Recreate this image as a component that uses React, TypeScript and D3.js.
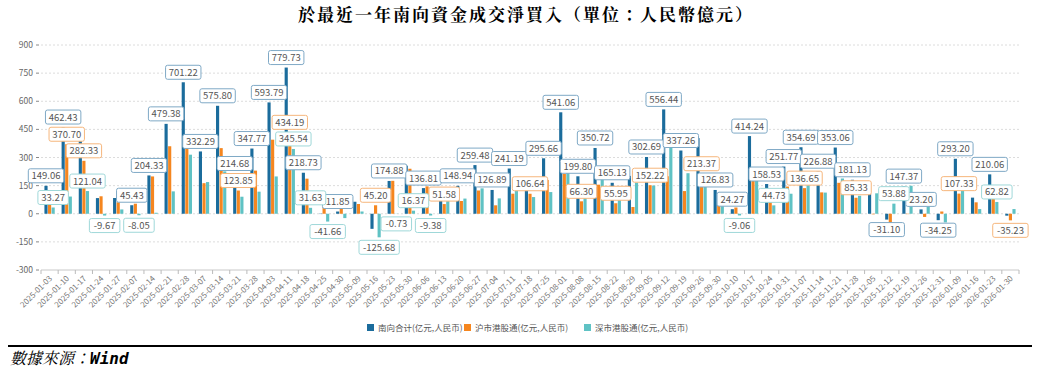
import React from "react";
import * as d3 from "d3";

const dates = [
  "2025-01-03", "2025-01-10", "2025-01-17", "2025-01-24", "2025-01-27", "2025-02-07", "2025-02-14",
  "2025-02-21", "2025-02-28", "2025-03-07", "2025-03-14", "2025-03-21", "2025-03-28", "2025-04-03",
  "2025-04-11", "2025-04-18", "2025-04-25", "2025-04-30", "2025-05-09", "2025-05-16", "2025-05-23",
  "2025-05-30", "2025-06-06", "2025-06-13", "2025-06-20", "2025-06-27", "2025-07-04", "2025-07-11",
  "2025-07-18", "2025-07-25", "2025-08-01", "2025-08-08", "2025-08-15", "2025-08-22", "2025-08-29",
  "2025-09-05", "2025-09-12", "2025-09-19", "2025-09-26", "2025-09-30", "2025-10-10", "2025-10-17",
  "2025-10-24", "2025-10-31", "2025-11-07", "2025-11-14", "2025-11-21", "2025-11-28", "2025-12-05",
  "2025-12-12", "2025-12-19", "2025-12-26", "2025-12-31", "2026-01-09", "2026-01-16", "2026-01-23",
  "2026-01-30",
];

const southTotal = [
  149.06, 462.43, 403.37, 83.5, 84, 45.43, 204.33, 479.38, 701.22, 332.29, 575.8, 214.68, 347.77, 593.79,
  779.73, 218.73, -1.5, 11.85, 64, -80.48, 174.88, 256, 136.81, 118.5, 148.94, 259.48, 126.89, 241.19,
  195.64, 295.66, 541.06, 199.8, 350.72, 165.13, 202, 302.69, 556.44, 337.26, 403.5, 126.83, 24.27, 414.24,
  158.53, 251.77, 354.69, 226.88, 353.06, 181.13, 106, -31.1, 147.37, 23.2, -34.25, 293.2, 86, 210.06, -10.23,
];

const shConnect = [
  115.79, 370.7, 282.33, 93.17, 61, 53.48, 199, 360, 386, 163, 350, 123.85, 230, 395,
  434.19, 187.1, 40.16, 35, 52, 45.2, 175.61, 240, 146.19, 51.58, 68, 124, 45, 107,
  106.64, 180, 213, 66.3, 155, 55.95, 36, 152.22, 200, 121, 213.37, 60, 33.33, 176,
  113.8, 145, 136.65, 114, 165, 85.33, -3, -84.98, -2, -17, 12, 107.33, 61, 147.24, -35.23,
];

const szConnect = [
  33.27, 91.73, 121.04, -9.67, 23, -8.05, 5.33, 119.38, 315, 169, 226, 90.83, 117.77, 199,
  345.54, 31.63, -41.66, -23.15, 12, -125.68, -0.73, 16.37, -9.38, 66.92, 80.94, 135.48, 81.89, 134.19,
  89, 115.66, 265, 133.5, 195.72, 109.18, 166, 150.47, 356.44, 216.26, 190.13, 66.83, -9.06, 238.24,
  44.73, 106.77, 218.04, 112.88, 188.06, 95.8, 109, 53.88, 149.37, 40.2, -46.25, 185.87, 25, 62.82, 25,
];

// which bars carry a value label
const southLabelIdx = [0, 1, 5, 6, 7, 8, 9, 10, 11, 12, 13, 14, 15, 17, 20, 22, 24, 25, 26, 27, 29, 30, 31, 32, 33, 35, 36, 37, 39, 40, 41, 42, 43, 44, 45, 46, 47, 49, 50, 51, 52, 53, 55];
const shLabelIdx = [1, 2, 11, 14, 19, 23, 28, 31, 33, 35, 38, 44, 47, 53, 56];
const szLabelIdx = [0, 2, 3, 5, 14, 15, 16, 19, 20, 21, 22, 40, 42, 49, 55];

const seriesNames = ["南向合计(亿元,人民币)", "沪市港股通(亿元,人民币)", "深市港股通(亿元,人民币)"];
const colors = ["#1b6c9c", "#f5861f", "#5fc2c4"];
const labelBorders = ["#7fa9c6", "#f6b67c", "#9fd8d9"];
const yTicks = [-300, -150, 0, 150, 300, 450, 600, 750, 900];

const W = 1050;
const H = 373;
const left = 41;
const right = 1019;
const font = "'Noto Sans CJK SC', 'Noto Sans', sans-serif";

export default function App() {
  const x = d3.scaleBand<string>().domain(dates).range([left, right]).paddingInner(0).paddingOuter(0);
  const bw = x.bandwidth();
  const sub = d3.scaleBand<number>().domain([0, 1, 2]).range([bw * 0.2, bw * 0.8]).paddingInner(0.12);
  const y = d3.scaleLinear().domain([-300, 900]).range([270, 45]);

  const allSeries = [southTotal, shConnect, szConnect];
  const labelSets = [southLabelIdx, shLabelIdx, szLabelIdx];

  const labels: { cx: number; yb: number; v: number; s: number; neg: boolean }[] = [];
  allSeries.forEach((vals, s) => {
    labelSets[s].forEach((i) => {
      const v = vals[i];
      const cx = (x(dates[i]) ?? 0) + (sub(s) ?? 0) + sub.bandwidth() / 2;
      labels.push({ cx, yb: y(v), v, s, neg: v < 0 });
    });
  });

  const legendX = [367, 464, 584];

  return (
    <svg width={W} height={H} style={{ display: "block", position: "absolute", left: 0, top: 0 }}>
      <rect width={W} height={H} fill="#fff" />
      <text x={526} y={21} textAnchor="middle" fontFamily="'Noto Serif CJK TC', 'Noto Sans CJK TC', serif" fontWeight="bold" fontSize={17} letterSpacing={2}>
        於最近一年南向資金成交淨買入（單位：人民幣億元）
      </text>

      {/* grid + y axis */}
      {yTicks.map((t) => (
        <g key={t}>
          {t !== -300 && (
            <line x1={left} x2={right} y1={y(t)} y2={y(t)} stroke="#dcdcdc" strokeDasharray="2,2" />
          )}
          <line x1={36} x2={39} y1={y(t)} y2={y(t)} stroke="#888" />
          <text x={33} y={y(t) + 3} textAnchor="end" fontSize={8.5} fill="#666" fontFamily={font}>
            {t}
          </text>
        </g>
      ))}
      <line x1={left} x2={right} y1={y(-300)} y2={y(-300)} stroke="#c8c8c8" />
      {dates.map((d) => (
        <line key={"t" + d} x1={x(d)} x2={x(d)} y1={y(-300)} y2={y(-300) + 4} stroke="#bbb" />
      ))}
      <line x1={right} x2={right} y1={y(-300)} y2={y(-300) + 4} stroke="#bbb" />

      {/* bars */}
      {allSeries.map((vals, s) => (
        <g key={"s" + s} fill={colors[s]}>
          {vals.map((v, i) => (
            <rect
              key={i}
              x={(x(dates[i]) ?? 0) + (sub(s) ?? 0)}
              y={Math.min(y(v), y(0))}
              width={sub.bandwidth()}
              height={Math.abs(y(v) - y(0))}
            />
          ))}
        </g>
      ))}

      {/* value labels */}
      {labels.map((l, k) => {
        const txt = l.v.toFixed(2);
        const bwid = txt.length * 4.9 + 6;
        const bh = 14;
        const top = l.neg ? l.yb + 3 : l.yb - 3 - bh;
        return (
          <g key={"l" + k}>
            <rect x={l.cx - bwid / 2} y={top} width={bwid} height={bh} rx={2} fill="#fff" stroke={labelBorders[l.s]} strokeWidth={1} />
            <text x={l.cx} y={top + 10.5} textAnchor="middle" fontSize={9.5} fill="#555" fontFamily={font}>
              {txt}
            </text>
          </g>
        );
      })}

      {/* x labels */}
      {dates.map((d) => {
        const cx = (x(d) ?? 0) + bw / 2;
        return (
          <text
            key={"x" + d}
            transform={`translate(${cx + 3},${279}) rotate(-45)`}
            textAnchor="end"
            fontSize={8}
            fill="#777"
            fontFamily={font}
          >
            {d}
          </text>
        );
      })}

      {/* legend */}
      {seriesNames.map((n, i) => (
        <g key={"lg" + i}>
          <rect x={legendX[i]} y={324} width={7} height={7} fill={colors[i]} />
          <text x={legendX[i] + 11} y={331} fontSize={8.5} fill="#555" fontFamily={font}>
            {n}
          </text>
        </g>
      ))}

      <line x1={8} x2={1032} y1={346} y2={346} stroke="#000" strokeWidth={2} />
      <text x={10} y={364} fontSize={16} fontStyle="italic" fontFamily="'Noto Serif CJK TC', 'DejaVu Serif', serif">
        數據來源：<tspan fontFamily="'DejaVu Sans Mono', monospace" fontWeight="bold">Wind</tspan>
      </text>
    </svg>
  );
}
